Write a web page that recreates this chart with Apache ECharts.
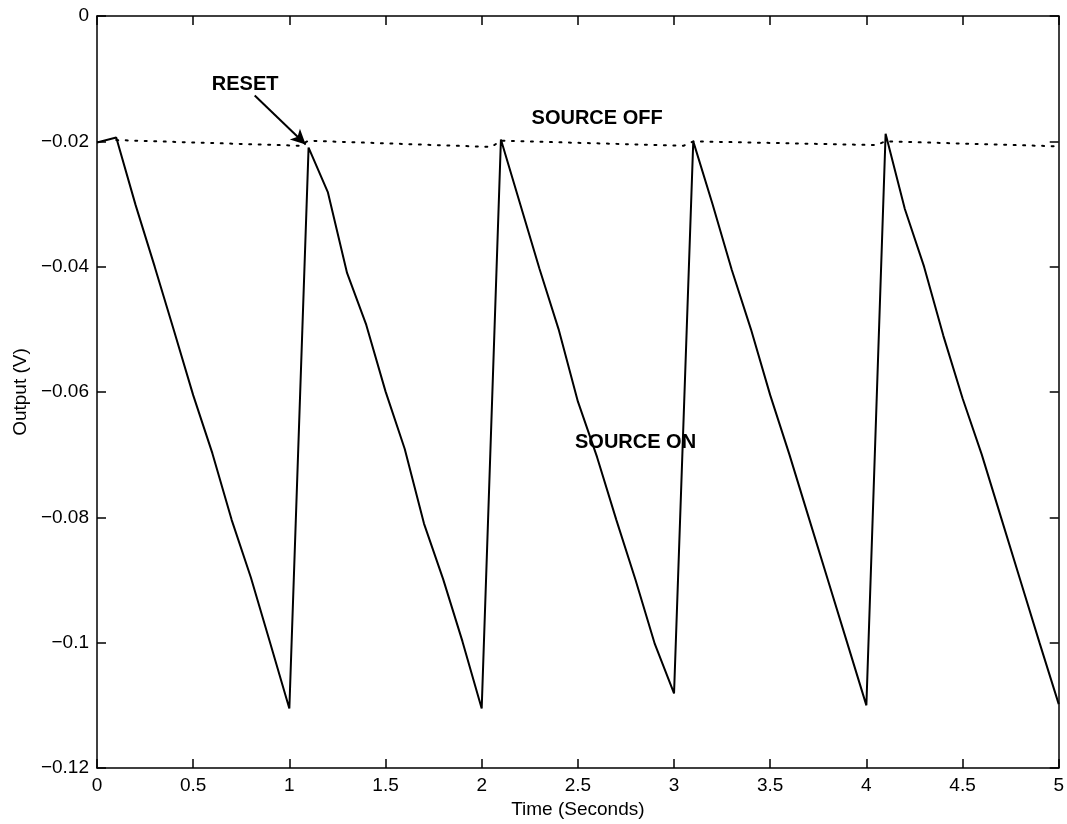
<!DOCTYPE html>
<html>
<head>
<meta charset="utf-8">
<script src="https://cdn.jsdelivr.net/npm/echarts@6/dist/echarts.min.js"></script>
<style>
  html, body { margin: 0; padding: 0; background: #fff; }
  #chart { width: 1067px; height: 824px; }
</style>
</head>
<body>
<div id="chart"></div>
<script>
// time samples (s) and the measured output with the source on
const times = [
  0, 0.1, 0.2, 0.3, 0.4, 0.5, 0.6, 0.7, 0.8, 0.9,
  1.0, 1.1, 1.2, 1.3, 1.4, 1.5, 1.6, 1.7, 1.8, 1.9,
  2.0, 2.1, 2.2, 2.3, 2.4, 2.5, 2.6, 2.7, 2.8, 2.9,
  3.0, 3.1, 3.2, 3.3, 3.4, 3.5, 3.6, 3.7, 3.8, 3.9,
  4.0, 4.1, 4.2, 4.3, 4.4, 4.5, 4.6, 4.7, 4.8, 4.9,
  5.0
];
const sourceOn = [
  -0.0202, -0.0194, -0.0301, -0.0400, -0.0502, -0.0605, -0.0698, -0.0804, -0.0896, -0.1000,
  -0.1105, -0.0210, -0.0281, -0.0410, -0.0493, -0.0599, -0.0691, -0.0810, -0.0899, -0.0998,
  -0.1105, -0.0197, -0.0300, -0.0403, -0.0500, -0.0615, -0.0704, -0.0804, -0.0900, -0.1002,
  -0.1081, -0.0200, -0.0300, -0.0405, -0.0500, -0.0605, -0.0700, -0.0800, -0.0900, -0.1000,
  -0.1100, -0.0188, -0.0308, -0.0400, -0.0510, -0.0610, -0.0700, -0.0800, -0.0900, -0.1000,
  -0.1098
];

// source off trace (dotted), drifts slightly and steps back at each reset
const offTimes = [0.1, 1.05, 1.1, 2.05, 2.1, 3.05, 3.1, 4.05, 4.1, 5.0];
const sourceOff = [-0.0198, -0.0207, -0.0199, -0.0209, -0.0199, -0.0207, -0.0200, -0.0206, -0.0200, -0.0208];

// text annotations [t, value, text]
const notes = [
  [0.77, -0.0110, 'RESET'],
  [2.60, -0.0163, 'SOURCE OFF'],
  [2.80, -0.0681, 'SOURCE ON']
];
const resetArrow = [[0.82, -0.0127], [1.085, -0.0205]];

const xTicks = { min: 0, max: 5, interval: 0.5 };
const yTicks = { min: -0.12, max: 0, interval: 0.02 };

const FONT = '"Liberation Sans", Arial, Helvetica, sans-serif';

function fmtNum(v) {
  const s = String(Math.round(v * 1000) / 1000);
  return s.replace('-', '\u2212');
}

const chart = echarts.init(document.getElementById('chart'), null, { renderer: 'canvas' });

const axisLine = { show: true, onZero: false, lineStyle: { color: '#000', width: 1.5 } };
const axisTick = { show: true, inside: true, length: 9, lineStyle: { color: '#000', width: 1.5 } };

chart.setOption({
  animation: false,
  backgroundColor: '#fff',
  grid: { left: 97, right: 8, top: 16, bottom: 56, containLabel: false },
  xAxis: [
    {
      type: 'value',
      min: xTicks.min, max: xTicks.max, interval: xTicks.interval,
      position: 'bottom',
      name: 'Time (Seconds)',
      nameLocation: 'middle',
      nameGap: 30,
      nameTextStyle: { color: '#000', fontSize: 19, fontFamily: FONT },
      axisLine, axisTick,
      axisLabel: { color: '#000', fontSize: 19, fontFamily: FONT, margin: 8, formatter: fmtNum },
      splitLine: { show: false }
    },
    {
      type: 'value',
      min: xTicks.min, max: xTicks.max, interval: xTicks.interval,
      position: 'top',
      axisLine, axisTick,
      axisLabel: { show: false },
      splitLine: { show: false }
    }
  ],
  yAxis: [
    {
      type: 'value',
      min: yTicks.min, max: yTicks.max, interval: yTicks.interval,
      position: 'left',
      name: 'Output (V)',
      nameLocation: 'middle',
      nameGap: 66,
      nameRotate: 90,
      nameTextStyle: { color: '#000', fontSize: 19, fontFamily: FONT },
      axisLine, axisTick,
      axisLabel: { color: '#000', fontSize: 19, fontFamily: FONT, margin: 8, formatter: fmtNum },
      splitLine: { show: false }
    },
    {
      type: 'value',
      min: yTicks.min, max: yTicks.max, interval: yTicks.interval,
      position: 'right',
      axisLine, axisTick,
      axisLabel: { show: false },
      splitLine: { show: false }
    }
  ],
  series: [
    {
      name: 'Source on',
      type: 'line',
      data: times.map((t, i) => [t, sourceOn[i]]),
      showSymbol: false,
      lineStyle: { color: '#000', width: 2 },
      z: 3
    },
    {
      name: 'Source off',
      type: 'line',
      data: offTimes.map((t, i) => [t, sourceOff[i]]),
      showSymbol: false,
      lineStyle: { color: '#000', width: 2, type: [2, 7.5], cap: 'round' },
      z: 2
    },
    {
      name: 'Reset arrow',
      type: 'line',
      data: [],
      markLine: {
        silent: true,
        symbol: ['none', 'arrow'],
        symbolSize: [11, 15],
        label: { show: false },
        lineStyle: { color: '#000', width: 2, type: 'solid' },
        data: [[{ coord: resetArrow[0] }, { coord: resetArrow[1] }]]
      }
    },
    {
      name: 'Notes',
      type: 'scatter',
      symbolSize: 0,
      itemStyle: { opacity: 1, color: '#000' },
      data: notes.map(n => ({ value: [n[0], n[1]], name: n[2] })),
      label: {
        show: true,
        position: 'inside',
        formatter: p => p.name,
        color: '#000',
        opacity: 1,
        fontSize: 20,
        fontWeight: 'bold',
        fontFamily: FONT
      },
      z: 5
    }
  ]
});
</script>
</body>
</html>
